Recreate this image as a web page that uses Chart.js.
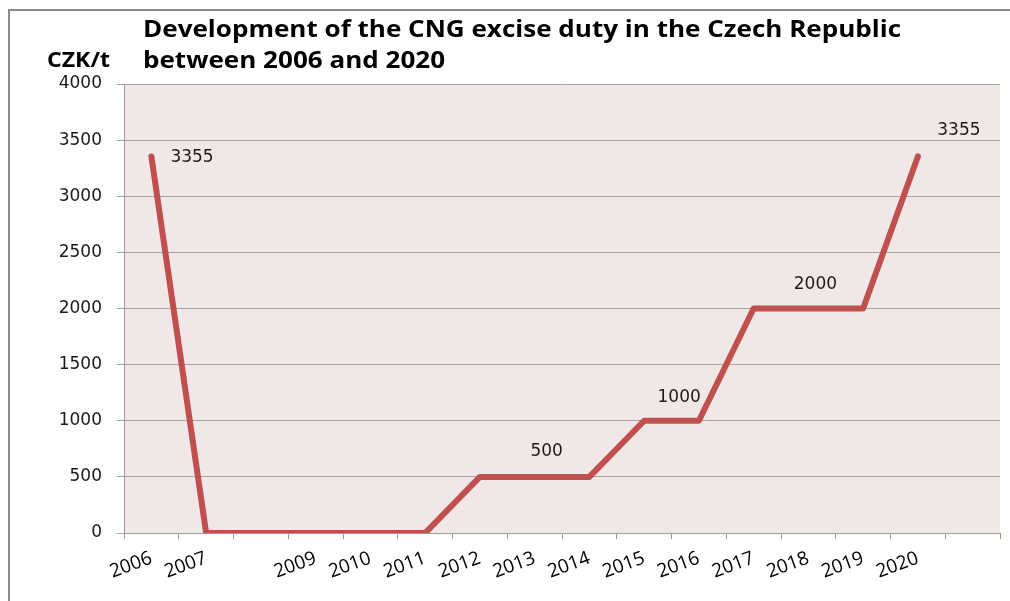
<!DOCTYPE html>
<html>
<head>
<meta charset="utf-8">
<script src="https://cdn.jsdelivr.net/npm/chart.js@4"></script>
<style>
  html, body { margin: 0; padding: 0; background: #fff; overflow: hidden; }
  canvas { display: block; }
</style>
</head>
<body>
<canvas id="duty" width="1010" height="601"></canvas>
<script>
// Categories and values
const years = ['2006', '2007', '2008', '2009', '2010', '2011', '2012', '2013',
               '2014', '2015', '2016', '2017', '2018', '2019', '2020', '2021'];
const tickLabels = ['2006', '2007', '', '2009', '2010', '2011', '2012', '2013',
                    '2014', '2015', '2016', '2017', '2018', '2019', '2020', ''];
const duty = [3355, 0, 0, 0, 0, 0, 500, 500, 500, 1000, 1000, 2000, 2000, 2000, 3355, null];
const labelledPoints = [0, 7, 9, 12, 14];
const yTicks = [0, 500, 1000, 1500, 2000, 2500, 3000, 3500, 4000];

const titleLines = ['Development of the CNG excise duty in the Czech Republic', 'between 2006 and 2020'];
const unitLabel = 'CZK/t';

// where each value label sits relative to its point
const labelOffsets = {
    0: { dx: 19, dy: 1, align: 'left' },
    7: { dx: 12, dy: -25, align: 'center' },
    9: { dx: 35, dy: -23, align: 'center' },
    12: { dx: 7, dy: -24, align: 'center' },
    14: { dx: 41, dy: -26, align: 'center' }
};

const plotBackground = {
    id: 'plotBackground',
    beforeDraw(chart) {
        const { ctx, chartArea: a } = chart;
        ctx.save();
        // outer frame, only its top and left edges are in view
        ctx.strokeStyle = '#8c8c8c';
        ctx.lineWidth = 2;
        ctx.beginPath();
        ctx.moveTo(9, chart.height);
        ctx.lineTo(9, 10);
        ctx.lineTo(chart.width, 10);
        ctx.stroke();
        ctx.fillStyle = '#f2e7e7';
        ctx.fillRect(a.left, a.top, a.right - a.left, a.bottom - a.top);
        ctx.restore();
    }
};

// bold text drawn slightly wider, like the original heading
function wideText(ctx, text, x, y, stretch) {
    ctx.save();
    ctx.translate(x, y);
    ctx.scale(stretch, 1);
    ctx.fillText(text, 0, 0);
    ctx.restore();
}

const textDecor = {
    id: 'textDecor',
    afterDatasetsDraw(chart) {
        const ctx = chart.ctx;
        const meta = chart.getDatasetMeta(0);
        ctx.save();
        ctx.fillStyle = '#1a1a1a';
        ctx.font = '17px "DejaVu Sans"';
        ctx.textBaseline = 'middle';
        labelledPoints.forEach(i => {
            const pt = meta.data[i];
            const o = labelOffsets[i];
            ctx.textAlign = o.align;
            ctx.fillText(String(duty[i]), pt.x + o.dx, pt.y + o.dy);
        });
        ctx.restore();
    },
    afterDraw(chart) {
        const ctx = chart.ctx;
        ctx.save();
        ctx.fillStyle = '#000';
        ctx.textAlign = 'left';
        ctx.textBaseline = 'alphabetic';
        ctx.font = 'bold 24px "Open Sans"';
        wideText(ctx, titleLines[0], 143, 37, 1.085);
        wideText(ctx, titleLines[1], 143, 68, 1.085);
        ctx.font = 'bold 21px "Open Sans"';
        wideText(ctx, unitLabel, 47, 67, 1.1);
        ctx.restore();
    }
};

new Chart(document.getElementById('duty'), {
    type: 'line',
    data: {
        labels: years,
        datasets: [{
            data: duty,
            borderColor: '#c0504d',
            borderWidth: 6,
            borderJoinStyle: 'round',
            borderCapStyle: 'round',
            pointRadius: 0,
            tension: 0,
            fill: false
        }]
    },
    options: {
        responsive: false,
        animation: false,
        layout: { padding: { left: 0, top: 84, right: 10, bottom: 0 } },
        plugins: {
            legend: { display: false },
            tooltip: { enabled: false }
        },
        scales: {
            x: {
                offset: true,
                grid: {
                    offset: true,
                    drawOnChartArea: false,
                    drawTicks: true,
                    tickLength: 6,
                    color: '#9a9a9a'
                },
                border: { color: '#9a9a9a', width: 1 },
                ticks: {
                    autoSkip: false,
                    minRotation: 20,
                    maxRotation: 20,
                    padding: 8,
                    color: '#000',
                    font: { family: '"Open Sans"', size: 19 },
                    callback: (v, i) => tickLabels[i]
                },
                afterFit(scale) { scale.height = 68; }
            },
            y: {
                min: 0,
                max: 4000,
                afterBuildTicks(scale) { scale.ticks = yTicks.map(v => ({ value: v })); },
                grid: {
                    color: '#a6a6a6',
                    tickLength: 7,
                    drawTicks: true
                },
                border: { color: '#9a9a9a', width: 1 },
                ticks: {
                    padding: 15,
                    color: '#1a1a1a',
                    font: { family: '"DejaVu Sans"', size: 17 },
                    callback: v => String(v)
                },
                afterFit(scale) { scale.width = 124; }
            }
        }
    },
    plugins: [plotBackground, textDecor]
});
</script>
</body>
</html>
